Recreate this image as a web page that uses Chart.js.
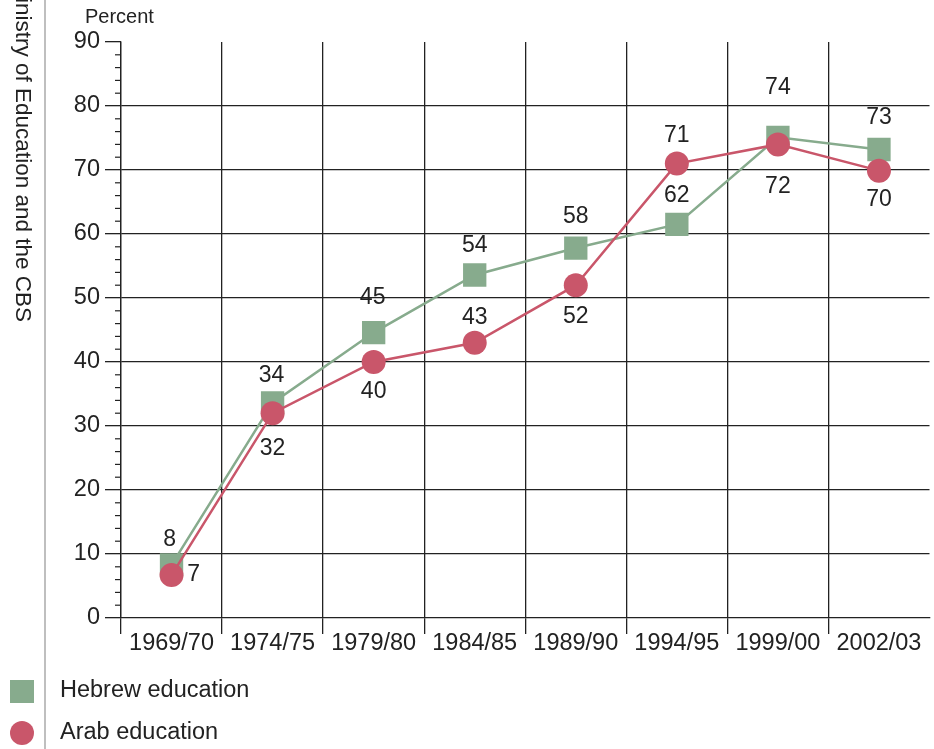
<!DOCTYPE html>
<html lang="en">
<head>
 <meta charset="UTF-8">
 <title>Hebrew vs Arab education</title>
 <script src="https://cdn.jsdelivr.net/npm/chart.js"></script>
 <style>
  body { margin: 0; background: #fff; overflow: hidden; }
  #wrap { width: 934px; height: 749px; overflow: hidden; }
  canvas { display: block; }
 </style>
</head>
<body>
 <!-- canvas is a bit wider than the window: the point-size overflow padding ends up off-screen -->
 <div id="wrap"><canvas id="myChart" width="946" height="749"></canvas></div>
 <script>
 // Years on the x axis
 const years = ['1969/70', '1974/75', '1979/80', '1984/85', '1989/90', '1994/95', '1999/00', '2002/03'];
 // Values as plotted
 const hebrewValues = [8.3, 33.6, 44.6, 53.6, 57.8, 61.5, 75.1, 73.2];
 const arabValues = [6.7, 32, 40, 43, 52, 71, 74, 69.9];
 // Printed value labels
 const hebrewLabels = ['8', '34', '45', '54', '58', '62', '74', '73'];
 const arabLabels = ['7', '32', '40', '43', '52', '71', '72', '70'];
 const yTicks = [0, 10, 20, 30, 40, 50, 60, 70, 80, 90];

 // where each value label sits relative to its marker (px)
 const hebrewLabelPos = [[-2, -25], [-1, -27], [-1, -35], [0, -29], [0, -31], [0, -29], [0, -50], [0, -32]];
 const arabLabelPos = [[22, 0], [0, 35], [0, 30], [0, -25], [0, 31], [0, -28], [0, 42], [0, 29]];

 const green = '#87ab8d';
 const red = '#c9566a';
 const ink = '#222';
 const fontFamily = '"Liberation Sans", Arial, sans-serif';

 const extras = {
  id: 'extras',
  afterDatasetsDraw(chart) {
   const ctx = chart.ctx;
   ctx.save();
   ctx.fillStyle = ink;
   ctx.font = '23px ' + fontFamily;
   ctx.textAlign = 'center';
   ctx.textBaseline = 'middle';
   chart.data.datasets.forEach((ds, di) => {
    const meta = chart.getDatasetMeta(di);
    meta.data.forEach((pt, i) => {
     const off = ds.labelPos[i];
     ctx.fillText(ds.valueLabels[i], pt.x + off[0], pt.y + off[1]);
    });
   });
   ctx.restore();
  },
  afterDraw(chart) {
   const ctx = chart.ctx;
   const area = chart.chartArea;
   ctx.save();
   // source line on the left
   ctx.strokeStyle = '#aaa';
   ctx.lineWidth = 1.5;
   ctx.beginPath();
   ctx.moveTo(45, 0);
   ctx.lineTo(45, chart.height);
   ctx.stroke();

   // minor ticks on y axis
   const ys = chart.scales.y;
   ctx.strokeStyle = ink;
   ctx.lineWidth = 1.2;
   for (let v = 0; v <= 90; v += 2) {
    if (v % 10 === 0) continue;
    const py = ys.getPixelForValue(v);
    ctx.beginPath();
    ctx.moveTo(area.left - 6, py);
    ctx.lineTo(area.left, py);
    ctx.stroke();
   }

   ctx.fillStyle = ink;
   ctx.textBaseline = 'middle';
   ctx.textAlign = 'left';
   ctx.font = '20px ' + fontFamily;
   ctx.fillText('Percent', 85, 17);

   // rotated source text
   ctx.save();
   ctx.translate(22, 322);
   ctx.rotate(Math.PI / 2);
   ctx.textAlign = 'right';
   ctx.font = '22.5px ' + fontFamily;
   ctx.fillText('Source: Ministry of Education and the CBS', 0, 0);
   ctx.restore();

   // legend
   ctx.font = '23.5px ' + fontFamily;
   ctx.fillStyle = green;
   ctx.fillRect(10, 680, 24, 23);
   ctx.fillStyle = red;
   ctx.beginPath();
   ctx.arc(22, 733, 12, 0, Math.PI * 2);
   ctx.fill();
   ctx.fillStyle = ink;
   ctx.fillText(chart.data.datasets[0].label, 60, 691);
   ctx.fillText(chart.data.datasets[1].label, 60, 733);
   ctx.restore();
  }
 };

 const ctx = document.getElementById('myChart').getContext('2d');
 const myChart = new Chart(ctx, {
  type: 'line',
  data: {
   labels: years,
   datasets: [{
    label: 'Hebrew education',
    data: hebrewValues,
    valueLabels: hebrewLabels,
    labelPos: hebrewLabelPos,
    borderColor: green,
    backgroundColor: green,
    borderWidth: 2.5,
    pointStyle: 'rect',
    pointRadius: 16.5,
    pointHoverRadius: 16.5,
    pointBorderWidth: 0,
    order: 2
   }, {
    label: 'Arab education',
    data: arabValues,
    valueLabels: arabLabels,
    labelPos: arabLabelPos,
    borderColor: red,
    backgroundColor: red,
    borderWidth: 2.5,
    pointStyle: 'circle',
    pointRadius: 12,
    pointHoverRadius: 12,
    pointBorderWidth: 0,
    order: 1
   }]
  },
  options: {
   responsive: false,
   animation: false,
   layout: { padding: { left: 50, top: 42, right: 4, bottom: 81 } },
   plugins: {
    legend: { display: false },
    tooltip: { enabled: false }
   },
   scales: {
    x: {
     offset: true,
     grid: {
      offset: true,
      color: c => c.type === 'tick' ? ink : 'transparent',
      tickColor: c => c.type === 'tick' ? ink : 'transparent',
      lineWidth: 1.3,
      tickLength: 16
     },
     border: { color: ink, width: 1.3 },
     ticks: {
      color: ink,
      font: { family: fontFamily, size: 23.5 },
      padding: -5,
      maxRotation: 0,
      autoSkip: false
     },
     afterFit: s => { s.height = 50; s.paddingLeft = 0; s.paddingRight = 0; }
    },
    y: {
     min: 0,
     max: 90,
     afterBuildTicks: s => { s.ticks = yTicks.map(v => ({ value: v })); },
     grid: {
      color: c => (c.tick && c.tick.value > 0 && c.tick.value < 90) ? ink : 'transparent',
      tickColor: ink,
      lineWidth: 1.3,
      tickLength: 16
     },
     border: { color: ink, width: 1.3 },
     ticks: {
      color: ink,
      font: { family: fontFamily, size: 23.5 },
      padding: 5
     },
     afterFit: s => { s.width = 71; s.paddingTop = 0; s.paddingBottom = 0; }
    }
   }
  },
  plugins: [extras]
 });
 </script>
</body>
</html>
